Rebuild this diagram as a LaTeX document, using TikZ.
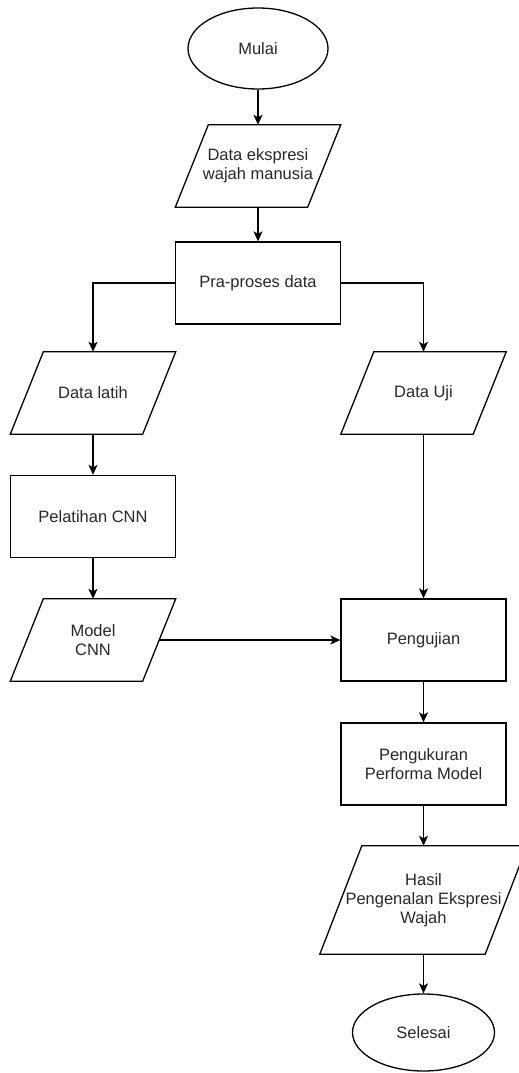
\documentclass[tikz,border=0pt]{standalone}
\usepackage{fontspec}
\setmainfont{Liberation Sans}
\usetikzlibrary{shapes.geometric,arrows.meta,calc}
\definecolor{txt}{RGB}{40,40,40}
\tikzset{
  base/.style={draw=black, line width=1.3pt, text=txt, align=center, inner sep=0pt,
    font=\fontsize{16.5}{19}\selectfont},
  term/.style={base, ellipse, minimum width=#1, minimum height=80pt},
  proc/.style={base, rectangle, minimum width=165pt, minimum height=82pt},
  io/.style={rectangle, draw=none, text=txt, align=center, inner sep=0pt,
    font=\fontsize{16.5}{19}\selectfont, minimum width=132pt, minimum height=82pt},
  arr/.style={line width=1.3pt, draw=black, -{Stealth[length=10pt,width=9pt,inset=2.5pt]}},
  edge/.style={line width=1.3pt, draw=black, line join=miter}
}
\begin{document}
\begin{tikzpicture}[x=1pt,y=1pt]
\useasboundingbox (0,0) rectangle (519,-1073);
% nodes
\node[term=140pt, minimum height=81pt] (mulai) at (258,-48.5) {Mulai};
\node[io] (p1) at (258,-166) {Data ekspresi\\wajah manusia};
\node[proc] (pra) at (258,-283) {Pra-proses data};
\node[io] (dl) at (93,-393) {Data latih};
\node[io] (du) at (423.5,-393) {Data Uji};
\node[proc] (pel) at (93,-516.5) {Pelatihan CNN};
\node[io] (mc) at (93,-640) {Model\\CNN};
\node[proc] (peng) at (423.5,-640) {Pengujian};
\node[proc] (ukur) at (423.5,-764) {Pengukuran\\Performa Model};
\node[io, minimum width=165pt, minimum height=108pt] (hasil) at (423.5,-900) {Hasil\\Pengenalan Ekspresi\\Wajah};
\node[term=142pt, minimum height=77pt] (selesai) at (423.5,-1032.5) {Selesai};
% parallelogram outlines
\foreach \n/\s in {p1/16.5, dl/16.5, du/16.5, mc/16.5, hasil/21}{
  \draw[edge] ($(\n.south west)+(-\s,0)$) -- ($(\n.north west)+(\s,0)$)
    -- ($(\n.north east)+(\s,0)$) -- ($(\n.south east)+(-\s,0)$) -- cycle;
}
% connectors
\draw[arr] (mulai.south) -- (p1.north);
\draw[arr] (p1.south) -- (pra.north);
\draw[arr] (pra.west) -| (dl.north);
\draw[arr] (pra.east) -| (du.north);
\draw[arr] (dl.south) -- (pel.north);
\draw[arr] (pel.south) -- (mc.north);
\draw[arr] (mc.east) -- (peng.west);
\draw[arr] (du.south) -- (peng.north);
\draw[arr] (peng.south) -- (ukur.north);
\draw[arr] (ukur.south) -- (hasil.north);
\draw[arr] (hasil.south) -- (selesai.north);
\end{tikzpicture}
\end{document}
